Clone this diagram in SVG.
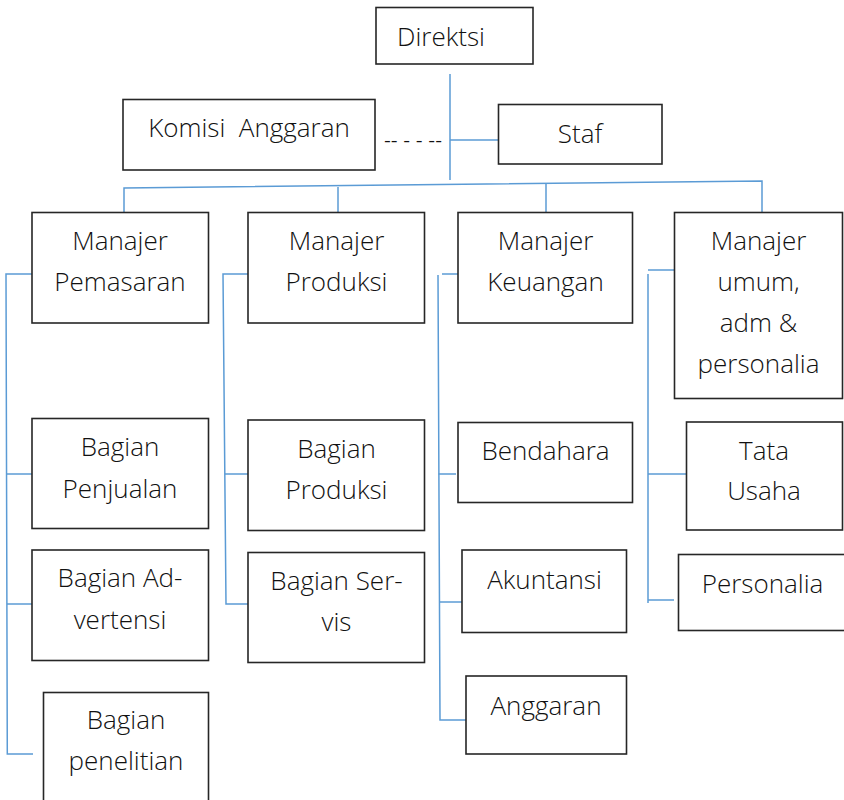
<svg xmlns="http://www.w3.org/2000/svg" width="844" height="800" viewBox="0 0 844 800">
<style>
.box{fill:#fff;stroke:#262626;stroke-width:1.6}
.t{font-family:"Open Sans","Noto Sans","Liberation Sans",sans-serif;font-weight:300;font-size:26px;fill:#111;text-anchor:middle}
.c{fill:none;stroke:#5b9bd5;stroke-width:1.5}
</style>
<rect width="844" height="800" fill="#fff"/>
<g id="connectors">
<line class="c" x1="450" y1="74" x2="450" y2="180"/>
<line class="c" x1="450" y1="140" x2="498" y2="140"/>
<polyline class="c" points="124,212 124,188 762,181 762,212"/>
<line class="c" x1="338" y1="187" x2="338" y2="212"/>
<line class="c" x1="546" y1="183" x2="546" y2="212"/>
<polyline class="c" points="32,274 6,274 7.3,754 33,754"/>
<line class="c" x1="6.5" y1="474" x2="32" y2="474"/>
<line class="c" x1="7" y1="604" x2="33" y2="604"/>
<polyline class="c" points="248,274 223,274 226,604 248,604"/>
<line class="c" x1="225" y1="474" x2="252" y2="474"/>
<polyline class="c" points="458,274 442,274"/>
<polyline class="c" points="438,275 440,720 466,720"/>
<line class="c" x1="438.5" y1="474" x2="456" y2="474"/>
<line class="c" x1="439" y1="602" x2="466" y2="602"/>
<line class="c" x1="648" y1="270" x2="674" y2="270"/>
<line class="c" x1="648" y1="274" x2="648" y2="603"/>
<line class="c" x1="648" y1="474" x2="686" y2="474"/>
<line class="c" x1="648" y1="600" x2="674" y2="600"/>
</g>
<g id="dashes"><text x="384" y="146" style="font-family:'Liberation Sans',sans-serif;font-size:16px;fill:#111" textLength="58" lengthAdjust="spacingAndGlyphs">-- - - --</text></g>
<g id="direktsi"><rect class="box" x="376" y="7.5" width="157" height="56.5"/><text class="t" x="441" y="46">Direktsi</text></g>
<g id="komisi"><rect class="box" x="123" y="99.5" width="252" height="70.5"/><text class="t" x="249" y="137" xml:space="preserve">Komisi  Anggaran</text></g>
<g id="staf"><rect class="box" x="498.5" y="104.5" width="163.5" height="59.5"/><text class="t" x="580" y="143">Staf</text></g>
<g id="m-pemasaran"><rect class="box" x="32" y="212.5" width="176.5" height="110.5"/><text class="t" x="120" y="250">Manajer</text><text class="t" x="120" y="291">Pemasaran</text></g>
<g id="m-produksi"><rect class="box" x="248" y="212.5" width="176.5" height="110.5"/><text class="t" x="336.5" y="250">Manajer</text><text class="t" x="336.5" y="291">Produksi</text></g>
<g id="m-keuangan"><rect class="box" x="458" y="212.5" width="174.5" height="110.5"/><text class="t" x="545.5" y="250">Manajer</text><text class="t" x="545.5" y="291">Keuangan</text></g>
<g id="m-umum"><rect class="box" x="674.5" y="212.5" width="168" height="186"/><text class="t" x="758.5" y="250">Manajer</text><text class="t" x="758.5" y="291">umum,</text><text class="t" x="758.5" y="332">adm &amp;</text><text class="t" x="758.5" y="373">personalia</text></g>
<g id="b-penjualan"><rect class="box" x="32" y="418.5" width="176.5" height="110"/><text class="t" x="120" y="456">Bagian</text><text class="t" x="120" y="497.5">Penjualan</text></g>
<g id="b-advertensi"><rect class="box" x="32" y="550" width="176.5" height="110.5"/><text class="t" x="120" y="587">Bagian Ad-</text><text class="t" x="120" y="628.5">vertensi</text></g>
<g id="b-penelitian"><rect class="box" x="43.5" y="692.5" width="165" height="112"/><text class="t" x="126" y="728.5">Bagian</text><text class="t" x="126" y="770">penelitian</text></g>
<g id="b-produksi"><rect class="box" x="248" y="420" width="176.5" height="110.5"/><text class="t" x="336.5" y="458">Bagian</text><text class="t" x="336.5" y="499">Produksi</text></g>
<g id="b-servis"><rect class="box" x="248" y="552.5" width="176.5" height="110"/><text class="t" x="336.5" y="590">Bagian Ser-</text><text class="t" x="336.5" y="630.5">vis</text></g>
<g id="bendahara"><rect class="box" x="458" y="422.5" width="174.5" height="80"/><text class="t" x="545.5" y="459.5">Bendahara</text></g>
<g id="akuntansi"><rect class="box" x="462" y="550" width="164.5" height="82.5"/><text class="t" x="544.5" y="589">Akuntansi</text></g>
<g id="anggaran"><rect class="box" x="466" y="676" width="160.5" height="78"/><text class="t" x="546" y="715">Anggaran</text></g>
<g id="tata-usaha"><rect class="box" x="686.5" y="422" width="156" height="108"/><text class="t" x="764" y="459.5">Tata</text><text class="t" x="764" y="500">Usaha</text></g>
<g id="personalia"><rect class="box" x="678.5" y="554.5" width="170" height="76"/><text class="t" x="762.5" y="592.5">Personalia</text></g>
</svg>
